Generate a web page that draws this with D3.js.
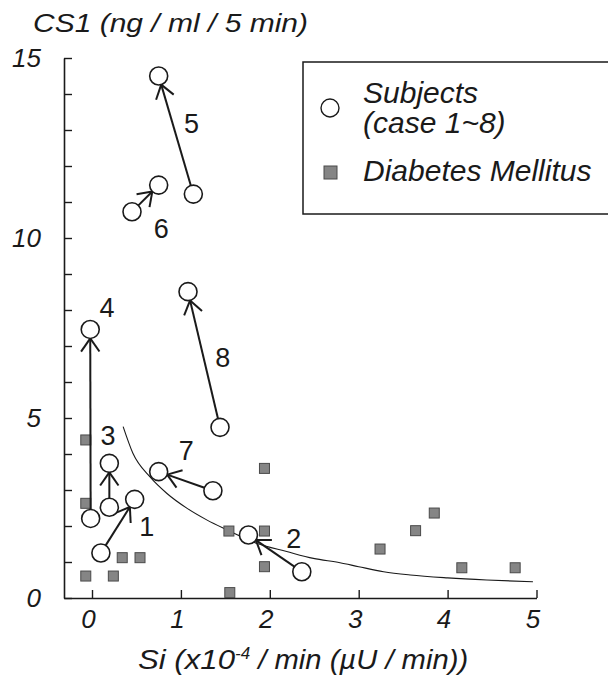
<!DOCTYPE html>
<html>
<head>
<meta charset="utf-8">
<script src="https://cdn.jsdelivr.net/npm/d3@7"></script>
<style>
  body { margin: 0; background: #fff; }
  svg { display: block; }
  text { font-family: "Liberation Sans", Arial, sans-serif; fill: #1a1a1a; }
</style>
</head>
<body>
<svg id="chart"></svg>
<script>
// subjects (case 1~8) : [Si, CS1], arrow goes from -> to
const caseIds = [1, 2, 3, 4, 5, 6, 7, 8];
const caseFrom = [[0.10, 1.25], [2.36, 0.73], [0.195, 2.52], [-0.015, 2.21], [1.14, 11.22], [0.45, 10.73], [1.36, 2.98], [1.44, 4.74]];
const caseTo = [[0.48, 2.74], [1.76, 1.75], [0.195, 3.74], [-0.02, 7.46], [0.75, 14.5], [0.75, 11.47], [0.75, 3.51], [1.08, 8.51]];
const caseLabelAt = [[0.615, 1.98], [2.27, 1.66], [0.18, 4.53], [0.17, 8.08], [1.12, 13.19], [0.78, 10.28], [1.06, 4.11], [1.47, 6.70]];

// diabetes mellitus
const dmSi = [-0.07, -0.07, -0.07, 0.24, 0.34, 0.54, 1.54, 1.55, 1.94, 1.94, 1.94, 3.24, 3.64, 3.85, 4.16, 4.76];
const dmCS1 = [4.39, 2.63, 0.61, 0.61, 1.12, 1.12, 1.86, 0.15, 3.60, 1.86, 0.87, 1.36, 1.87, 2.36, 0.84, 0.84];

// fitted curve
const curveSi = [0.35, 0.46, 0.65, 0.84, 1.07, 1.29, 1.52, 1.85, 2.19, 2.49, 2.79, 3.0, 3.28, 3.58, 4.0, 4.44, 4.96];
const curveCS1 = [4.76, 4.02, 3.37, 2.91, 2.49, 2.17, 1.89, 1.52, 1.29, 1.10, 0.98, 0.87, 0.73, 0.64, 0.56, 0.50, 0.45];

const xTicks = [0, 1, 2, 3, 4, 5];
const yTicks = [0, 1, 2, 3, 4, 5, 6, 7, 8, 9, 10, 11, 12, 13, 14, 15];
const yTickLabels = [0, 5, 10, 15];

const width = 608, height = 679;
const ink = "#1a1a1a";

const svg = d3.select("#chart")
    .attr("width", width)
    .attr("height", height);

const x = d3.scaleLinear().domain([-0.315, 5]).range([64, 536.5]);
const y = d3.scaleLinear().domain([0, 15]).range([598, 58]);

// axes
const xAxis = svg.append("g")
    .attr("transform", `translate(0, ${y(0)})`)
    .call(d3.axisBottom(x).tickValues(xTicks).tickSize(-8).tickSizeOuter(0).tickPadding(12)
        .tickFormat(d3.format("d")));

const yAxis = svg.append("g")
    .attr("transform", `translate(${x.range()[0]}, 0)`)
    .call(d3.axisLeft(y).tickValues(yTicks).tickSize(-8).tickSizeOuter(0).tickPadding(23)
        .tickFormat(d => yTickLabels.includes(d) ? d : ""));

[xAxis, yAxis].forEach(a => {
    a.select(".domain").attr("stroke", ink).attr("stroke-width", 1.6);
    a.selectAll(".tick line").attr("stroke", ink).attr("stroke-width", 1.4);
    a.selectAll(".tick text")
        .attr("fill", ink)
        .style("font-size", "26px")
        .style("font-style", "italic");
});
xAxis.selectAll(".tick text").attr("dx", "-4");

// axis titles
svg.append("text")
    .attr("x", 33)
    .attr("y", 32)
    .attr("textLength", 275)
    .attr("lengthAdjust", "spacingAndGlyphs")
    .style("font-size", "26px")
    .style("font-style", "italic")
    .text("CS1 (ng / ml / 5 min)");

const xTitle = svg.append("text")
    .attr("x", 138)
    .attr("y", 669)
    .style("font-size", "27px")
    .style("font-style", "italic");
xTitle.append("tspan").attr("textLength", 97).attr("lengthAdjust", "spacingAndGlyphs").text("Si (x10");
xTitle.append("tspan").attr("dy", -10).style("font-size", "17px").text("-4");
xTitle.append("tspan").attr("dy", 10).attr("textLength", 218).attr("lengthAdjust", "spacingAndGlyphs")
    .text(" / min (\u00b5U / min))");

// fitted curve
const curvePts = curveSi.map((s, i) => [s, curveCS1[i]]);
svg.append("path")
    .datum(curvePts)
    .attr("fill", "none")
    .attr("stroke", ink)
    .attr("stroke-width", 1.1)
    .attr("d", d3.line().x(d => x(d[0])).y(d => y(d[1])).curve(d3.curveMonotoneX));

// diabetes squares
const sq = 10;
svg.append("g").selectAll("rect")
    .data(dmSi.map((s, i) => [s, dmCS1[i]]))
    .join("rect")
    .attr("x", d => x(d[0]) - sq / 2)
    .attr("y", d => y(d[1]) - sq / 2)
    .attr("width", sq)
    .attr("height", sq)
    .attr("fill", "#858585")
    .attr("stroke", "#4a4a4a")
    .attr("stroke-width", 1);

// subject arrows
const r = 9;
const headLen = 16, headAng = 35 * Math.PI / 180;
const arrows = svg.append("g")
    .attr("stroke", ink)
    .attr("stroke-width", 2)
    .attr("fill", "none");

caseIds.forEach((id, i) => {
    let x0 = x(caseFrom[i][0]), y0 = y(caseFrom[i][1]);
    let x1 = x(caseTo[i][0]), y1 = y(caseTo[i][1]);
    let a = Math.atan2(y1 - y0, x1 - x0);
    let sx = x0 + r * Math.cos(a), sy = y0 + r * Math.sin(a);
    let ex = x1 - r * Math.cos(a), ey = y1 - r * Math.sin(a);
    arrows.append("line")
        .attr("x1", sx).attr("y1", sy)
        .attr("x2", ex).attr("y2", ey);
    let back = a + Math.PI;
    [-headAng, headAng].forEach(w => {
        arrows.append("line")
            .attr("x1", ex).attr("y1", ey)
            .attr("x2", ex + headLen * Math.cos(back + w))
            .attr("y2", ey + headLen * Math.sin(back + w));
    });
});

// subject circles
svg.append("g").selectAll("circle")
    .data(caseFrom.concat(caseTo))
    .join("circle")
    .attr("cx", d => x(d[0]))
    .attr("cy", d => y(d[1]))
    .attr("r", r)
    .attr("fill", "#fff")
    .attr("stroke", ink)
    .attr("stroke-width", 1.6);

// case numbers
svg.append("g").selectAll("text")
    .data(caseIds)
    .join("text")
    .attr("x", (d, i) => x(caseLabelAt[i][0]))
    .attr("y", (d, i) => y(caseLabelAt[i][1]))
    .attr("text-anchor", "middle")
    .attr("dy", "0.36em")
    .style("font-size", "27px")
    .text(d => d);

// legend
const legend = svg.append("g");
legend.append("rect")
    .attr("x", 303).attr("y", 62)
    .attr("width", 320).attr("height", 152)
    .attr("fill", "#fff")
    .attr("stroke", ink)
    .attr("stroke-width", 1.5);
legend.append("circle")
    .attr("cx", 330).attr("cy", 108).attr("r", r)
    .attr("fill", "#fff").attr("stroke", ink).attr("stroke-width", 1.4);
legend.append("rect")
    .attr("x", 324).attr("y", 166).attr("width", 13).attr("height", 13)
    .attr("fill", "#858585").attr("stroke", "#4a4a4a");
legend.selectAll("text.lg")
    .data([["Subjects", 103], ["(case 1~8)", 133], ["Diabetes Mellitus", 181]])
    .join("text")
    .attr("class", "lg")
    .attr("x", 363)
    .attr("y", d => d[1])
    .style("font-size", "30px")
    .style("font-style", "italic")
    .text(d => d[0]);
</script>
</body>
</html>
